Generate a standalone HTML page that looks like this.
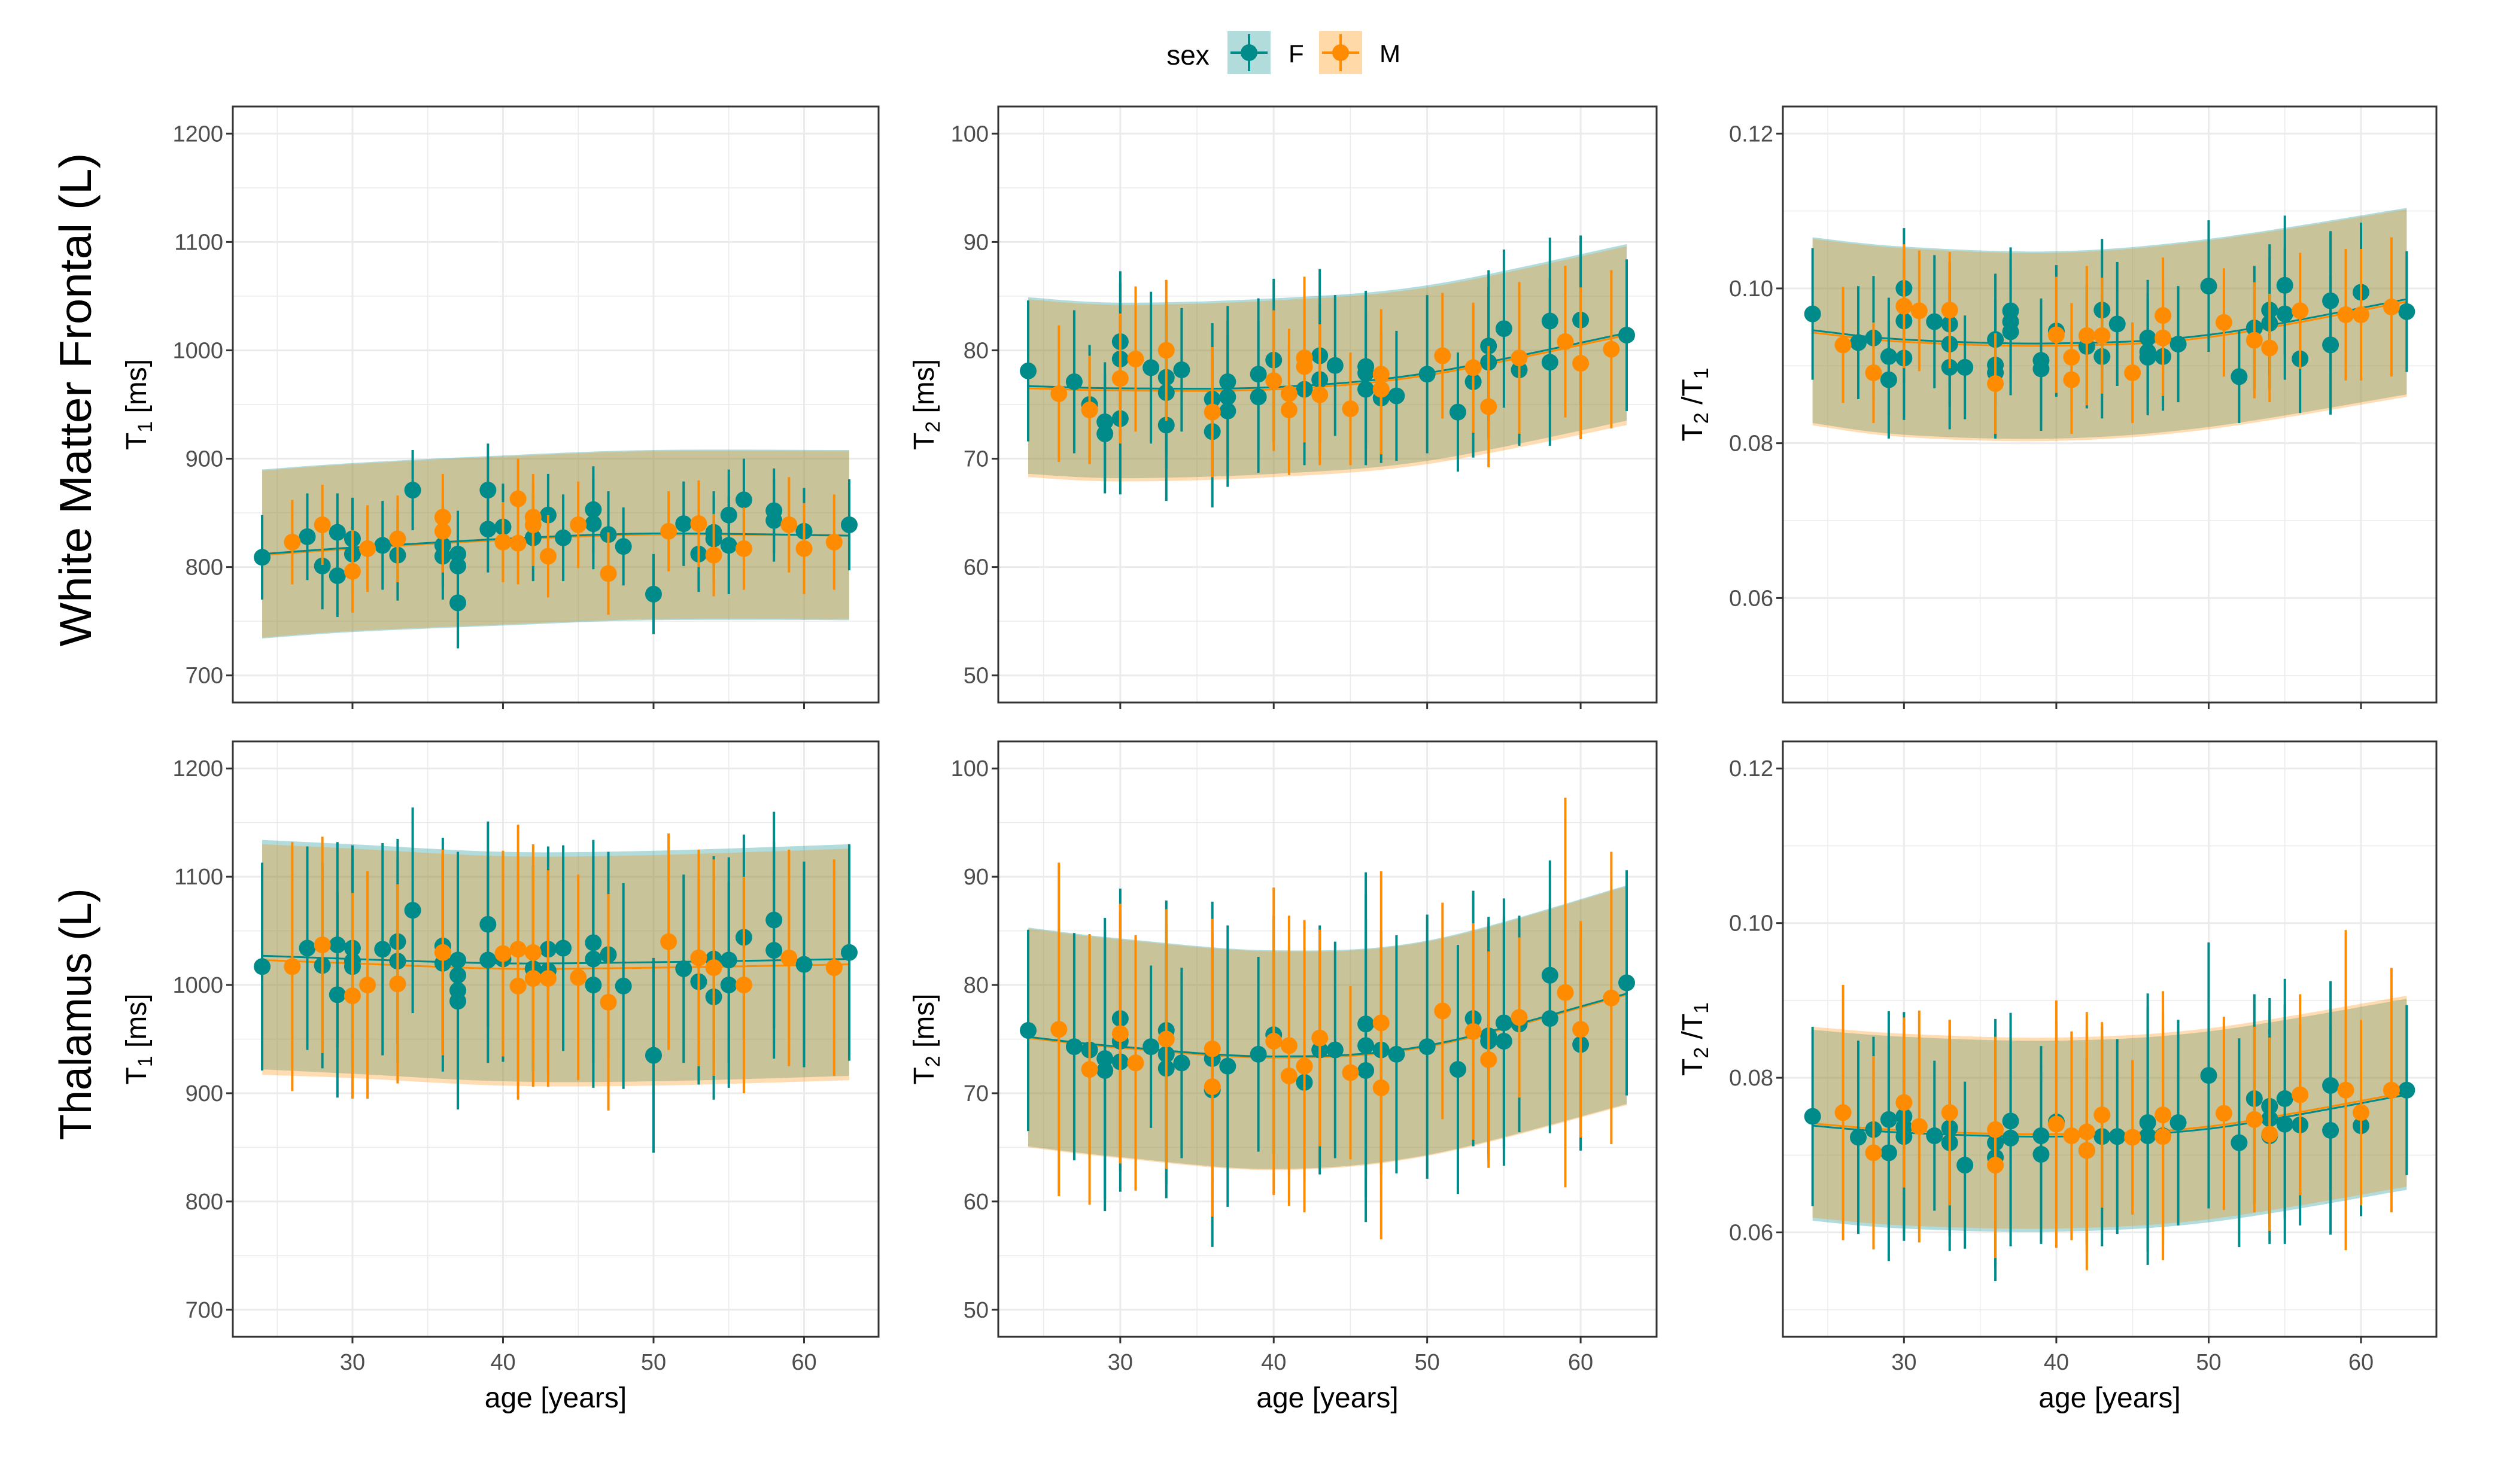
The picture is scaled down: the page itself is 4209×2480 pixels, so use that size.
<!DOCTYPE html>
<html>
<head>
<meta charset="utf-8">
<style>
html,body{margin:0;padding:0;background:#fff;}
svg{display:block;}
text{font-family:"Liberation Sans",Arial,sans-serif;}
</style>
</head>
<body>
<svg id="chart" width="4209" height="2480" viewBox="0 0 4209 2480" xmlns="http://www.w3.org/2000/svg">
  <rect x="0" y="0" width="4209" height="2480" fill="#fff"/>
  <!-- legend -->
  <g>
    <text x="1985" y="108" font-size="46" text-anchor="middle" fill="#000">sex</text>
    <g>
      <rect x="2051" y="52" width="72" height="72" fill="#b2dcdc"/>
      <line x1="2056" y1="88" x2="2118" y2="88" stroke="#008b8b" stroke-width="4"/>
      <line x1="2087" y1="57" x2="2087" y2="119" stroke="#008b8b" stroke-width="4"/>
      <circle cx="2087" cy="88" r="14" fill="#008b8b"/>
      <text x="2153" y="104" font-size="42" fill="#000">F</text>
    </g>
    <g>
      <rect x="2204" y="52" width="72" height="72" fill="#ffd9a8"/>
      <line x1="2209" y1="88" x2="2271" y2="88" stroke="#ff8c00" stroke-width="4"/>
      <line x1="2240" y1="57" x2="2240" y2="119" stroke="#ff8c00" stroke-width="4"/>
      <circle cx="2240" cy="88" r="14" fill="#ff8c00"/>
      <text x="2305" y="104" font-size="42" fill="#000">M</text>
    </g>
  </g>
  <text transform="translate(152,668) rotate(-90)" font-size="75" text-anchor="middle" textLength="825" lengthAdjust="spacingAndGlyphs" fill="#000">White  Matter Frontal (L)</text>
  <text transform="translate(152,1695) rotate(-90)" font-size="75" text-anchor="middle" textLength="421" lengthAdjust="spacingAndGlyphs" fill="#000">Thalamus (L)</text>
</svg>
<script>
// ---------- shared ----------
const ribbonAges = [24, 30, 40, 50, 63];
const xTicks = [30, 40, 50, 60];
const xMinor = [25, 35, 45, 55];

// ---------- Panel A: White matter T1 ----------
const wmT1_fAge = [24,27,28,29,29,30,30,32,33,34,36,36,37,37,37,39,39,40,42,43,44,46,46,47,48,50,52,53,54,54,55,55,56,58,58,60,63];
const wmT1_fVal = [809,828,801,832,792,826,812,820,811,871,810,820,812,801,767,871,835,837,827,848,827,853,840,830,819,775,840,812,832,826,848,820,862,852,843,833,839];
const wmT1_fErr = [39,40,40,36,38,38,36,41,42,37,40,38,40,42,42,43,40,40,40,38,40,40,42,40,36,37,39,35,38,40,42,45,38,39,38,40,42];
const wmT1_mAge = [26,28,30,31,33,36,36,40,41,41,42,42,43,45,47,51,53,54,56,59,60,62];
const wmT1_mVal = [823,839,796,817,826,846,833,823,863,822,846,839,810,839,794,833,840,811,817,839,817,823];
const wmT1_mErr = [39,37,38,40,40,40,38,37,37,38,40,38,38,40,38,37,40,38,38,44,42,44];
const wmT1_fUpper = [890,896,903,908,908];
const wmT1_fLower = [734,740,746,751,751];
const wmT1_mUpper = [889,895,902,907,907];
const wmT1_mLower = [735,741,747,752,752];
const wmT1_fFit = [812,818,826,831,829];
const wmT1_mFit = [811,817,825,830,829];

// ---------- Panel B: White matter T2 ----------
const wmT2_fAge = [24,27,28,29,29,30,30,30,32,33,33,33,34,36,36,37,37,37,39,39,40,42,43,43,44,46,46,46,47,48,50,52,53,54,54,55,56,58,58,60,63];
const wmT2_fVal = [78.1,77.1,75.0,73.4,72.3,80.8,79.2,73.7,78.4,77.5,76.1,73.1,78.2,75.5,72.5,77.1,75.7,74.4,77.8,75.7,79.1,76.4,79.5,77.3,78.6,78.5,77.9,76.4,75.6,75.8,77.8,74.3,77.1,80.4,78.9,82.0,78.2,82.7,78.9,82.8,81.4];
const wmT2_fErr = [6.5,6.6,5.5,5.5,5.5,6.5,7,7,7,7,7,7,5.7,7,7,7,7,7,7,7,7.5,7,8,7,6.5,7,7,7,6,6,7.3,5.5,7,7,7,7.3,7,7.7,7.7,7.8,7];
const wmT2_mAge = [26,28,30,31,33,36,40,41,41,42,42,43,45,47,47,51,53,54,56,59,60,62];
const wmT2_mVal = [76.0,74.5,77.4,79.2,80.0,74.3,77.2,76.0,74.5,79.3,78.5,75.9,74.6,77.8,76.4,79.5,78.4,74.8,79.3,80.8,78.8,80.1];
const wmT2_mErr = [6.3,5,6,6.7,6.5,6,6.5,6,6,7.5,7,6.5,5.2,6,6,5.8,6,5.6,7,7,7,7.3];
const wmT2_fUpper = [84.9,84.4,84.8,86.0,89.8];
const wmT2_fLower = [68.6,68.2,68.6,69.8,73.5];
const wmT2_mUpper = [84.7,84.2,84.6,85.8,89.6];
const wmT2_mLower = [68.3,67.9,68.3,69.5,73.1];
const wmT2_fFit = [76.7,76.5,76.6,77.9,81.6];
const wmT2_mFit = [76.5,76.3,76.4,77.7,81.4];

// ---------- Panel C: White matter T2/T1 ----------
const wmR_fAge = [24,27,28,29,29,30,30,30,32,33,33,33,34,36,36,36,37,37,37,39,39,40,42,43,43,44,46,46,46,47,48,50,52,53,54,54,55,55,56,58,58,60,63];
const wmR_fVal = [0.0967,0.0930,0.0936,0.0912,0.0882,0.1000,0.0958,0.0910,0.0957,0.0954,0.0928,0.0898,0.0898,0.0934,0.0901,0.0891,0.0971,0.0957,0.0944,0.0907,0.0896,0.0945,0.0925,0.0972,0.0912,0.0954,0.0936,0.0918,0.0911,0.0912,0.0928,0.1003,0.0886,0.0949,0.0972,0.0955,0.1004,0.0967,0.0909,0.0984,0.0927,0.0995,0.0970];
const wmR_fErr = [0.0085,0.0073,0.0080,0.0076,0.0076,0.0078,0.0080,0.0080,0.0086,0.0080,0.0080,0.0080,0.0067,0.0085,0.0085,0.0085,0.0082,0.0082,0.0082,0.0080,0.0080,0.0085,0.0080,0.0092,0.0080,0.0080,0.0075,0.0075,0.0075,0.0070,0.0075,0.0085,0.0060,0.0080,0.0085,0.0085,0.0090,0.0085,0.0070,0.0090,0.0090,0.0090,0.0078];
const wmR_mAge = [26,28,30,31,33,36,40,41,41,42,43,45,47,47,51,53,54,56,59,60,62];
const wmR_mVal = [0.0927,0.0891,0.0977,0.0971,0.0972,0.0877,0.0940,0.0911,0.0882,0.0939,0.0939,0.0891,0.0965,0.0936,0.0956,0.0933,0.0923,0.0971,0.0966,0.0966,0.0976];
const wmR_mErr = [0.0075,0.0065,0.0080,0.0078,0.0075,0.0065,0.0075,0.0070,0.0070,0.0090,0.0075,0.0065,0.0075,0.0075,0.0070,0.0075,0.0070,0.0075,0.0085,0.0085,0.0090];
const wmR_fUpper = [0.1066,0.1054,0.1048,0.1064,0.1104];
const wmR_fLower = [0.0826,0.0811,0.0806,0.0821,0.0863];
const wmR_mUpper = [0.1064,0.1052,0.1046,0.1062,0.1102];
const wmR_mLower = [0.0823,0.0808,0.0803,0.0818,0.0860];
const wmR_fFit = [0.0946,0.0934,0.0929,0.0940,0.0986];
const wmR_mFit = [0.0943,0.0931,0.0926,0.0937,0.0983];

// ---------- Panel D: Thalamus T1 ----------
const thT1_fAge = [24,27,28,29,29,30,30,30,32,33,33,34,36,36,37,37,37,37,39,39,40,42,43,43,44,46,46,46,47,48,50,52,53,54,54,55,55,56,58,58,60,63];
const thT1_fVal = [1017,1034,1018,1037,991,1034,1022,1017,1033,1040,1022,1069,1036,1020,1023,1009,995,985,1056,1023,1024,1015,1033,1013,1034,1039,1024,1000,1028,999,935,1015,1003,1024,989,1023,1000,1044,1060,1032,1019,1030];
const thT1_fErr = [96,94,95,95,95,95,95,95,98,95,95,95,100,100,100,100,100,100,95,95,95,95,95,95,95,95,95,95,95,95,90,87,95,95,95,95,95,95,100,100,95,100];
const thT1_mAge = [26,28,30,31,33,36,40,41,41,42,42,43,45,47,51,53,54,56,59,62];
const thT1_mVal = [1017,1037,990,1000,1001,1030,1029,1033,999,1030,1006,1006,1007,984,1040,1025,1016,1000,1025,1016];
const thT1_mErr = [115,100,95,105,92,95,95,115,105,100,100,100,95,100,100,100,100,100,100,100];
const thT1_fUpper = [1134,1130,1123,1124,1130];
const thT1_fLower = [922,918,911,911,916];
const thT1_mUpper = [1130,1126,1119,1120,1126];
const thT1_mLower = [917,914,907,907,912];
const thT1_fFit = [1027,1024,1020,1021,1024];
const thT1_mFit = [1023,1020,1015,1016,1019];

// ---------- Panel E: Thalamus T2 ----------
const thT2_fAge = [24,27,28,29,29,30,30,30,32,33,33,33,34,36,36,37,39,40,42,43,44,46,46,46,47,48,50,52,53,54,54,55,55,56,58,58,60,63];
const thT2_fVal = [75.8,74.3,74.0,73.2,72.1,76.9,74.8,72.9,74.3,75.8,73.6,72.3,72.8,73.2,70.3,72.5,73.6,75.4,71.0,74.0,74.0,76.4,74.4,72.1,74.0,73.6,74.3,72.2,76.9,75.3,74.8,76.5,74.8,76.4,80.9,76.9,74.5,80.2];
const thT2_fErr = [9.3,10.5,10,13,13,12,12,12,7.5,12,12,12,8.8,14.5,14.5,13,9,11,9,11.5,10,14,14,14,11,11,12.2,11.5,11.8,11,11,11.5,11.5,10,10.6,10.6,9.8,10.4];
const thT2_mAge = [26,28,30,31,33,36,36,40,41,41,42,43,45,47,47,51,53,54,56,59,60,62];
const thT2_mVal = [75.9,72.2,75.5,72.8,75.0,74.1,70.6,74.8,74.4,71.6,72.5,75.1,71.9,76.5,70.5,77.6,75.7,73.1,77.0,79.3,75.9,78.8];
const thT2_mErr = [15.4,12.5,12,11.8,12,12,12,14.2,12,12,13.5,10,8,14,14,10,10,10,7.4,18,10,13.5];
const thT2_fUpper = [85.3,84.3,83.2,84.1,89.2];
const thT2_fLower = [65.1,64.1,63.0,64.3,69.0];
const thT2_mUpper = [85.2,84.2,83.1,84.0,89.1];
const thT2_mLower = [65.0,64.0,62.9,64.2,68.9];
const thT2_fFit = [75.2,74.3,73.4,74.4,79.2];
const thT2_mFit = [75.1,74.2,73.3,74.3,79.1];

// ---------- Panel F: Thalamus T2/T1 ----------
const thR_fAge = [24,27,28,29,29,30,30,30,32,33,33,34,36,36,37,37,39,39,40,42,43,44,46,46,47,48,50,52,53,54,54,54,55,55,56,58,58,60,63];
const thR_fVal = [0.0750,0.0723,0.0733,0.0746,0.0703,0.0750,0.0736,0.0724,0.0725,0.0735,0.0716,0.0687,0.0716,0.0697,0.0744,0.0722,0.0725,0.0701,0.0743,0.0706,0.0724,0.0724,0.0742,0.0725,0.0725,0.0742,0.0803,0.0716,0.0773,0.0763,0.0747,0.0725,0.0773,0.0740,0.0739,0.0790,0.0732,0.0738,0.0784];
const thR_fErr = [0.0116,0.0125,0.0120,0.0140,0.0140,0.0135,0.0135,0.0135,0.0097,0.0140,0.0140,0.0108,0.0160,0.0160,0.0140,0.0140,0.0116,0.0116,0.0130,0.0120,0.0142,0.0126,0.0167,0.0167,0.0140,0.0133,0.0172,0.0135,0.0135,0.0140,0.0140,0.0140,0.0155,0.0155,0.0130,0.0135,0.0135,0.0117,0.0110];
const thR_mAge = [26,28,30,31,33,36,36,40,41,42,42,43,45,47,47,51,53,54,56,59,60,62];
const thR_mVal = [0.0755,0.0703,0.0768,0.0737,0.0755,0.0733,0.0687,0.0740,0.0725,0.0730,0.0706,0.0752,0.0723,0.0752,0.0724,0.0754,0.0746,0.0727,0.0778,0.0784,0.0755,0.0784];
const thR_mErr = [0.0165,0.0125,0.011,0.015,0.012,0.012,0.012,0.016,0.0135,0.0155,0.0155,0.012,0.010,0.016,0.016,0.0125,0.012,0.0125,0.013,0.0207,0.012,0.0158];
const thR_fUpper = [0.0862,0.0853,0.0848,0.0860,0.0902];
const thR_fLower = [0.0615,0.0605,0.0601,0.0613,0.0655];
const thR_mUpper = [0.0866,0.0857,0.0852,0.0864,0.0906];
const thR_mLower = [0.0619,0.0609,0.0605,0.0617,0.0659];
const thR_fFit = [0.0738,0.0729,0.0724,0.0734,0.0778];
const thR_mFit = [0.0741,0.0732,0.0727,0.0737,0.0781];

// ---------- axis definitions ----------
const t1Ticks = [700, 800, 900, 1000, 1100, 1200];
const t1Minor = [750, 850, 950, 1050, 1150];
const t2Ticks = [50, 60, 70, 80, 90, 100];
const t2Minor = [55, 65, 75, 85, 95];
const rTicks = [0.06, 0.08, 0.10, 0.12];
const rMinor = [0.05, 0.07, 0.09, 0.11];
const rTickLabels = ["0.06", "0.08", "0.10", "0.12"];

const NS = "http://www.w3.org/2000/svg";
const svg = document.getElementById("chart");
const TEAL = "#008b8b", ORANGE = "#ff8c00";

function mk(tag, attrs, parent) {
  const e = document.createElementNS(NS, tag);
  for (const k in attrs) e.setAttribute(k, attrs[k]);
  (parent || svg).appendChild(e);
  return e;
}

function smoothPath(pts) {
  let d = "M" + pts[0][0] + "," + pts[0][1];
  for (let i = 0; i < pts.length - 1; i++) {
    const p0 = pts[i - 1] || pts[i], p1 = pts[i], p2 = pts[i + 1], p3 = pts[i + 2] || p2;
    const c1x = p1[0] + (p2[0] - p0[0]) / 6, c1y = p1[1] + (p2[1] - p0[1]) / 6;
    const c2x = p2[0] - (p3[0] - p1[0]) / 6, c2y = p2[1] - (p3[1] - p1[1]) / 6;
    d += " C" + c1x + "," + c1y + " " + c2x + "," + c2y + " " + p2[0] + "," + p2[1];
  }
  return d;
}

function drawPanel(cfg) {
  const X0 = cfg.x0, X1 = cfg.x1, Y0 = cfg.y0, Y1 = cfg.y1;
  const xmin = 22.05, xmax = 64.95;
  const xs = v => X0 + (v - xmin) / (xmax - xmin) * (X1 - X0);
  const ys = v => Y1 - (v - cfg.ymin) / (cfg.ymax - cfg.ymin) * (Y1 - Y0);

  const g = mk("g", {});
  
  

  // grid
  const grid = mk("g", {}, g);
  
  
  cfg.minor.forEach(v => mk("line", {x1: X0, x2: X1, y1: ys(v), y2: ys(v), stroke: "#ebebeb", "stroke-width": 1.5}, grid));
  xMinor.forEach(v => mk("line", {x1: xs(v), x2: xs(v), y1: Y0, y2: Y1, stroke: "#ebebeb", "stroke-width": 1.5}, grid));
  cfg.ticks.forEach(v => mk("line", {x1: X0, x2: X1, y1: ys(v), y2: ys(v), stroke: "#ebebeb", "stroke-width": 3}, grid));
  xTicks.forEach(v => mk("line", {x1: xs(v), x2: xs(v), y1: Y0, y2: Y1, stroke: "#ebebeb", "stroke-width": 3}, grid));

  // ribbons
  const ribbon = (up, lo, color, nm) => {
    const top = ribbonAges.map((a, i) => [xs(a), ys(up[i])]);
    const bot = ribbonAges.map((a, i) => [xs(a), ys(lo[i])]).reverse();
    let d = smoothPath(top) + " L" + bot[0][0] + "," + bot[0][1] + smoothPath(bot).slice(smoothPath(bot).indexOf(" C")) + " Z";
    const p = mk("path", {d: d, fill: color, "fill-opacity": 0.3, stroke: "none"}, g);
    
    
  };
  ribbon(cfg.fUpper, cfg.fLower, TEAL, 'prediction-band-f');
  ribbon(cfg.mUpper, cfg.mLower, ORANGE, 'prediction-band-m');

  // fit lines
  const fitLine = (fit, color, nm) => {
    const p = mk("path", {d: smoothPath(ribbonAges.map((a, i) => [xs(a), ys(fit[i])])), fill: "none", stroke: color, "stroke-width": 3}, g);
    
    
  };
  fitLine(cfg.mFit, ORANGE, 'fit-line-m');
  fitLine(cfg.fFit, TEAL, 'fit-line-f');

  // error bars + points
  const series = (ages, vals, errs, color, sex) => {
    const sg = mk("g", {}, g);
    
    
    ages.forEach((a, i) => {
      const l = mk("line", {x1: xs(a), x2: xs(a), y1: ys(vals[i] - errs[i]), y2: ys(vals[i] + errs[i]), stroke: color, "stroke-width": 4}, sg);
      
      
    });
    return sg;
  };
  const pts = (sg, ages, vals, color, sex) => {
    ages.forEach((a, i) => {
      const c = mk("circle", {cx: xs(a), cy: ys(vals[i]), r: 14, fill: color}, sg);
      
      
    });
  };
  const sf = series(cfg.fAge, cfg.fVal, cfg.fErr, TEAL, 'f');
  const sm = series(cfg.mAge, cfg.mVal, cfg.mErr, ORANGE, 'm');
  pts(sf, cfg.fAge, cfg.fVal, TEAL, 'f');
  pts(sm, cfg.mAge, cfg.mVal, ORANGE, 'm');

  // frame
  const fr = mk("rect", {x: X0, y: Y0, width: X1 - X0, height: Y1 - Y0, fill: "none", stroke: "#333", "stroke-width": 3}, g);
  
  

  // y axis
  const ya = mk("g", {}, g);
  
  
  cfg.ticks.forEach((v, i) => {
    mk("line", {x1: X0 - 11, x2: X0, y1: ys(v), y2: ys(v), stroke: "#333", "stroke-width": 3}, ya);
    const t = mk("text", {x: X0 - 16, y: ys(v) + 13, "font-size": 38, fill: "#4d4d4d", "text-anchor": "end"}, ya);
    t.textContent = cfg.labels ? cfg.labels[i] : String(v);
    
    
  });
  // y title
  const yt = mk("text", {transform: "translate(" + cfg.ytx + "," + ((Y0 + Y1) / 2) + ") rotate(-90)", "font-size": 48, fill: "#000", "text-anchor": "middle"}, ya);
  
  
  cfg.ytitle.forEach(part => {
    const ts = mk("tspan", part.sub ? {"font-size": 34, dy: 10} : (part.after ? {dy: -10} : {}), yt);
    ts.textContent = part.t;
  });

  // x axis
  const xa = mk("g", {}, g);
  
  
  xTicks.forEach(v => {
    mk("line", {x1: xs(v), x2: xs(v), y1: Y1, y2: Y1 + 11, stroke: "#333", "stroke-width": 3}, xa);
    if (cfg.xlabels) {
      const t = mk("text", {x: xs(v), y: Y1 + 55, "font-size": 38, fill: "#4d4d4d", "text-anchor": "middle"}, xa);
      t.textContent = String(v);
      
      
    }
  });
  if (cfg.xlabels) {
    const xt = mk("text", {x: (X0 + X1) / 2, y: Y1 + 118, "font-size": 48, fill: "#000", "text-anchor": "middle"}, xa);
    xt.textContent = "age [years]";
    
    
  }
}

const T1title = [{t: "T"}, {t: "1", sub: true}, {t: " [ms]", after: true}];
const T2title = [{t: "T"}, {t: "2", sub: true}, {t: " [ms]", after: true}];
const Rtitle = [{t: "T"}, {t: "2", sub: true}, {t: " /T", after: true}, {t: "1", sub: true}];

const cols = [[389, 1468], [1668, 2768], [2979, 4071]];
const rows = [[178, 1174], [1239, 2234]];

drawPanel({name: "panel-wm-t1", x0: cols[0][0], x1: cols[0][1], y0: rows[0][0], y1: rows[0][1], ymin: 675, ymax: 1225, ticks: t1Ticks, minor: t1Minor, ytx: 244, ytitle: T1title, xlabels: false,
  fAge: wmT1_fAge, fVal: wmT1_fVal, fErr: wmT1_fErr, mAge: wmT1_mAge, mVal: wmT1_mVal, mErr: wmT1_mErr,
  fUpper: wmT1_fUpper, fLower: wmT1_fLower, mUpper: wmT1_mUpper, mLower: wmT1_mLower, fFit: wmT1_fFit, mFit: wmT1_mFit});
drawPanel({name: "panel-wm-t2", x0: cols[1][0], x1: cols[1][1], y0: rows[0][0], y1: rows[0][1], ymin: 47.5, ymax: 102.5, ticks: t2Ticks, minor: t2Minor, ytx: 1560, ytitle: T2title, xlabels: false,
  fAge: wmT2_fAge, fVal: wmT2_fVal, fErr: wmT2_fErr, mAge: wmT2_mAge, mVal: wmT2_mVal, mErr: wmT2_mErr,
  fUpper: wmT2_fUpper, fLower: wmT2_fLower, mUpper: wmT2_mUpper, mLower: wmT2_mLower, fFit: wmT2_fFit, mFit: wmT2_mFit});
drawPanel({name: "panel-wm-ratio", x0: cols[2][0], x1: cols[2][1], y0: rows[0][0], y1: rows[0][1], ymin: 0.0465, ymax: 0.1235, ticks: rTicks, minor: rMinor, labels: rTickLabels, ytx: 2844, ytitle: Rtitle, xlabels: false,
  fAge: wmR_fAge, fVal: wmR_fVal, fErr: wmR_fErr, mAge: wmR_mAge, mVal: wmR_mVal, mErr: wmR_mErr,
  fUpper: wmR_fUpper, fLower: wmR_fLower, mUpper: wmR_mUpper, mLower: wmR_mLower, fFit: wmR_fFit, mFit: wmR_mFit});
drawPanel({name: "panel-thalamus-t1", x0: cols[0][0], x1: cols[0][1], y0: rows[1][0], y1: rows[1][1], ymin: 675, ymax: 1225, ticks: t1Ticks, minor: t1Minor, ytx: 244, ytitle: T1title, xlabels: true,
  fAge: thT1_fAge, fVal: thT1_fVal, fErr: thT1_fErr, mAge: thT1_mAge, mVal: thT1_mVal, mErr: thT1_mErr,
  fUpper: thT1_fUpper, fLower: thT1_fLower, mUpper: thT1_mUpper, mLower: thT1_mLower, fFit: thT1_fFit, mFit: thT1_mFit});
drawPanel({name: "panel-thalamus-t2", x0: cols[1][0], x1: cols[1][1], y0: rows[1][0], y1: rows[1][1], ymin: 47.5, ymax: 102.5, ticks: t2Ticks, minor: t2Minor, ytx: 1560, ytitle: T2title, xlabels: true,
  fAge: thT2_fAge, fVal: thT2_fVal, fErr: thT2_fErr, mAge: thT2_mAge, mVal: thT2_mVal, mErr: thT2_mErr,
  fUpper: thT2_fUpper, fLower: thT2_fLower, mUpper: thT2_mUpper, mLower: thT2_mLower, fFit: thT2_fFit, mFit: thT2_mFit});
drawPanel({name: "panel-thalamus-ratio", x0: cols[2][0], x1: cols[2][1], y0: rows[1][0], y1: rows[1][1], ymin: 0.0465, ymax: 0.1235, ticks: rTicks, minor: rMinor, labels: rTickLabels, ytx: 2844, ytitle: Rtitle, xlabels: true,
  fAge: thR_fAge, fVal: thR_fVal, fErr: thR_fErr, mAge: thR_mAge, mVal: thR_mVal, mErr: thR_mErr,
  fUpper: thR_fUpper, fLower: thR_fLower, mUpper: thR_mUpper, mLower: thR_mLower, fFit: thR_fFit, mFit: thR_mFit});
</script>
</body>
</html>
